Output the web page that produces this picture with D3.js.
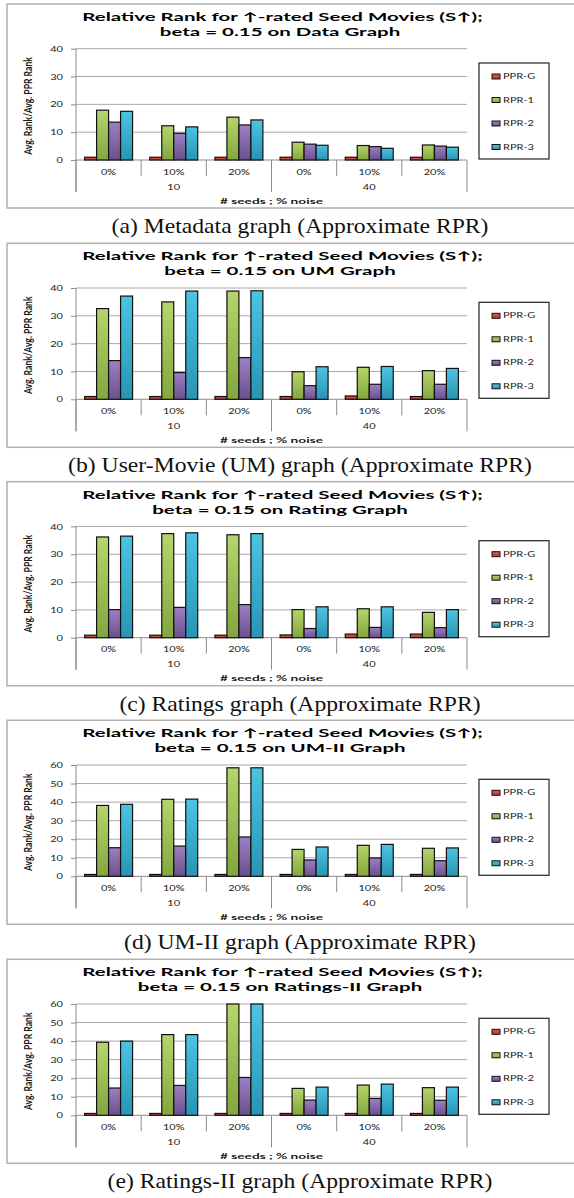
<!DOCTYPE html>
<html><head><meta charset="utf-8">
<script src="https://cdn.jsdelivr.net/npm/d3@7"></script>
<style>body{margin:0;background:#fff}svg{display:block}</style>
</head><body><script>
// ---------- data ----------
const categories = ["0%", "10%", "20%", "0%", "10%", "20%"];
const seedGroups = ["10", "40"];
const seriesNames = ["PPR-G", "RPR-1", "RPR-2", "RPR-3"];
const titleLine1 = "Relative Rank for \u2191-rated Seed Movies (S\u2191);";
const titleLine2 = ["beta = 0.15 on Data Graph", "beta = 0.15 on UM Graph", "beta = 0.15 on Rating Graph", "beta = 0.15 on UM-II Graph", "beta = 0.15 on Ratings-II Graph"];
const captions = ["(a) Metadata graph (Approximate RPR)", "(b) User-Movie (UM) graph (Approximate RPR)", "(c) Ratings graph (Approximate RPR)", "(d) UM-II graph (Approximate RPR)", "(e) Ratings-II graph (Approximate RPR)"];
const yTicksSmall = [0, 10, 20, 30, 40];
const yTicksLarge = [0, 10, 20, 30, 40, 50, 60];
const xAxisTitle = "# seeds ; % noise";
const yAxisTitle = "Avg. Rank/Avg. PPR Rank";

// (a) Metadata graph
const metaPPRG = [1.0, 1.0, 1.0, 1.0, 1.0, 1.0];
const metaRPR1 = [17.9, 12.3, 15.4, 6.4, 5.2, 5.4];
const metaRPR2 = [13.6, 9.6, 12.6, 5.7, 4.8, 5.0];
const metaRPR3 = [17.5, 11.9, 14.4, 5.3, 4.2, 4.6];
// (b) UM graph
const umPPRG = [1.0, 1.0, 1.0, 1.0, 1.2, 1.0];
const umRPR1 = [32.6, 35.0, 38.9, 9.9, 11.5, 10.3];
const umRPR2 = [13.9, 9.6, 15.0, 4.9, 5.4, 5.4];
const umRPR3 = [37.1, 38.9, 39.0, 11.7, 11.8, 11.1];
// (c) Ratings graph
const ratPPRG = [0.9, 0.9, 0.9, 1.0, 1.3, 1.3];
const ratRPR1 = [36.2, 37.4, 37.0, 10.1, 10.4, 9.1];
const ratRPR2 = [10.1, 10.9, 11.9, 3.3, 3.7, 3.6];
const ratRPR3 = [36.5, 37.7, 37.4, 11.1, 11.1, 10.1];
// (d) UM-II graph
const um2PPRG = [1.0, 1.0, 1.0, 1.0, 1.0, 1.0];
const um2RPR1 = [38.2, 41.5, 58.5, 14.5, 16.7, 15.1];
const um2RPR2 = [15.4, 16.3, 21.2, 8.8, 9.9, 8.4];
const um2RPR3 = [38.8, 41.6, 58.5, 15.8, 17.2, 15.3];
// (e) Ratings-II graph
const rat2PPRG = [1.0, 1.0, 1.0, 1.0, 1.0, 1.0];
const rat2RPR1 = [39.4, 43.5, 60.0, 14.5, 16.3, 14.9];
const rat2RPR2 = [14.7, 16.1, 20.4, 8.2, 9.1, 8.1];
const rat2RPR3 = [40.0, 43.5, 60.0, 15.2, 16.8, 15.2];

const panelSeries = [
  [metaPPRG, metaRPR1, metaRPR2, metaRPR3],
  [umPPRG, umRPR1, umRPR2, umRPR3],
  [ratPPRG, ratRPR1, ratRPR2, ratRPR3],
  [um2PPRG, um2RPR1, um2RPR2, um2RPR3],
  [rat2PPRG, rat2RPR1, rat2RPR2, rat2RPR3]
];
const panelTicks = [yTicksSmall, yTicksSmall, yTicksSmall, yTicksLarge, yTicksLarge];

// ---------- layout / style ----------
const W = 574, H = 1198;
const plotY0 = [160, 399.3, 637.7, 876.3, 1115.3];
const plotH = 111.3;
const axisX0 = 76, axisX1 = 467;
const SY = 0.63; // vertical squash of chart text
const colors = {
  "PPR-G": ["#e8564c", "#b8352e"],
  "RPR-1": ["#b6d56c", "#84a63e"],
  "RPR-2": ["#9d80c2", "#6a4f8e"],
  "RPR-3": ["#4cc4e2", "#2895b3"]
};
const FONT = "Lato, 'Open Sans', sans-serif";

const svg = d3.select("body").append("svg").attr("width", W).attr("height", H);
const defs = svg.append("defs");
seriesNames.forEach((s, i) => {
  const g = defs.append("linearGradient").attr("id", "grad" + i)
    .attr("x1", 0).attr("y1", 0).attr("x2", 0).attr("y2", 1);
  g.append("stop").attr("offset", "0%").attr("stop-color", colors[s][0]);
  g.append("stop").attr("offset", "100%").attr("stop-color", colors[s][1]);
});

function addText(g, str, x, y, o) {
  o = o || {};
  const t = g.append("text").text(str)
    .attr("text-anchor", o.anchor || "middle")
    .attr("dominant-baseline", "central")
    .attr("font-family", o.family || FONT)
    .attr("font-size", o.size || 11)
    .attr("font-weight", o.weight || "normal")
    .attr("fill", o.fill || "#1a1a1a");
  const sx = o.sx || 1, sy = o.sy == null ? SY : o.sy;
  t.attr("transform", `translate(${x},${y}) scale(${sx},${sy})` + (o.rotate ? ` rotate(${o.rotate})` : ""));
  if (o.textLength) t.attr("textLength", o.textLength).attr("lengthAdjust", "spacingAndGlyphs");
  return t;
}

// measure helpers
function measure(str, size, weight, family) {
  const t = svg.append("text").text(str).attr("font-size", size)
    .attr("font-weight", weight).attr("font-family", family);
  const l = t.node().getComputedTextLength();
  t.remove();
  return l;
}
const titleSX = 401 / measure(titleLine1, 18, "bold", FONT);
const CAPFONT = "'Liberation Serif', 'DejaVu Serif', serif";
const capSX = 377 / measure(captions[0], 21, "normal", CAPFONT);

panelSeries.forEach((seriesVals, p) => {
  const y0 = plotY0[p];
  const ticks = panelTicks[p];
  const g = svg.append("g");

  // panel border
  g.append("rect").attr("x", 7).attr("y", y0 - 156).attr("width", 600).attr("height", 204)
    .attr("fill", "#fff").attr("stroke", "#b0b0b0").attr("stroke-width", 1.5);

  const y = d3.scaleLinear().domain([0, d3.max(ticks)]).range([y0, y0 - plotH]);
  const x0 = d3.scaleBand().domain(d3.range(categories.length)).range([axisX0, axisX1]);
  const bw = x0.bandwidth();
  const x1 = d3.scaleBand().domain(seriesNames).range([bw * 0.132, bw * 0.868]);

  // gridlines
  g.append("g").selectAll("line").data(ticks.filter(t => t > 0)).join("line")
    .attr("x1", axisX0).attr("x2", axisX1).attr("y1", d => y(d)).attr("y2", d => y(d))
    .attr("stroke", "#a8a8a8").attr("stroke-width", 1);

  // y axis with ticks
  const ya = g.append("g").attr("transform", `translate(${axisX0},0)`)
    .call(d3.axisLeft(y).tickValues(ticks).tickSize(5).tickSizeOuter(0));
  ya.select(".domain").remove();
  ya.selectAll(".tick line").attr("stroke", "#8c8c8c");
  ya.selectAll(".tick text").attr("x", -13).attr("dy", null)
    .attr("dominant-baseline", "central")
    .attr("font-family", FONT).attr("font-size", 11).attr("fill", "#1a1a1a")
    .attr("transform", `scale(1,${SY})`);
  g.append("line").attr("x1", axisX0).attr("x2", axisX0).attr("y1", y0 - plotH).attr("y2", y0 + 32)
    .attr("stroke", "#8c8c8c");

  // x axis line
  g.append("line").attr("x1", axisX0).attr("x2", axisX1).attr("y1", y0).attr("y2", y0)
    .attr("stroke", "#8c8c8c");
  // separators
  const seps = d3.range(categories.length + 1);
  g.append("g").selectAll("line").data(seps).join("line")
    .attr("x1", i => axisX0 + i * bw).attr("x2", i => axisX0 + i * bw)
    .attr("y1", y0).attr("y2", i => (i % 3 === 0) ? y0 + 32 : y0 + 16)
    .attr("stroke", "#8c8c8c");

  // bars
  seriesNames.forEach((s, si) => {
    g.append("g").selectAll("rect").data(seriesVals[si]).join("rect")
      .attr("x", (d, i) => x0(i) + x1(s))
      .attr("y", d => y(d))
      .attr("width", x1.bandwidth())
      .attr("height", d => y0 - y(d))
      .attr("fill", `url(#grad${si})`)
      .attr("stroke", "#111").attr("stroke-width", 1.2);
  });

  // category labels
  categories.forEach((c, i) => addText(g, c, x0(i) + bw / 2, y0 + 12, { size: 11 }));
  seedGroups.forEach((s, k) => addText(g, s, axisX0 + (k * 3 + 1.5) * bw, y0 + 27, { size: 11 }));
  addText(g, xAxisTitle, (axisX0 + axisX1) / 2, y0 + 40.5, { size: 12, weight: "bold", textLength: 103 });

  // y title
  addText(g, yAxisTitle, 28, y0 - 54, { size: 11, weight: "bold", rotate: -90, sy: SY, textLength: 155 });

  // title
  addText(g, titleLine1, 282.5, y0 - 143, { size: 18, weight: "bold", sx: titleSX, fill: "#000" });
  addText(g, titleLine2[p], 280, y0 - 128, { size: 18, weight: "bold", sx: titleSX, fill: "#000" });

  // legend
  g.append("rect").attr("x", 479).attr("y", y0 - 97).attr("width", 70).attr("height", 96)
    .attr("fill", "#fff").attr("stroke", "#222").attr("stroke-width", 1.2);
  seriesNames.forEach((s, si) => {
    const cy = y0 - 83.5 + si * 23.5;
    g.append("rect").attr("x", 492).attr("y", cy - 2.5).attr("width", 8).attr("height", 5)
      .attr("fill", `url(#grad${si})`).attr("stroke", "#111").attr("stroke-width", 1);
    addText(g, s, 503, cy, { size: 11, anchor: "start" });
  });

  // caption
  addText(svg, captions[p], 300, y0 + 66, { size: 21, family: CAPFONT, sx: capSX, sy: 1, fill: "#111" });
});
</script></body></html>
